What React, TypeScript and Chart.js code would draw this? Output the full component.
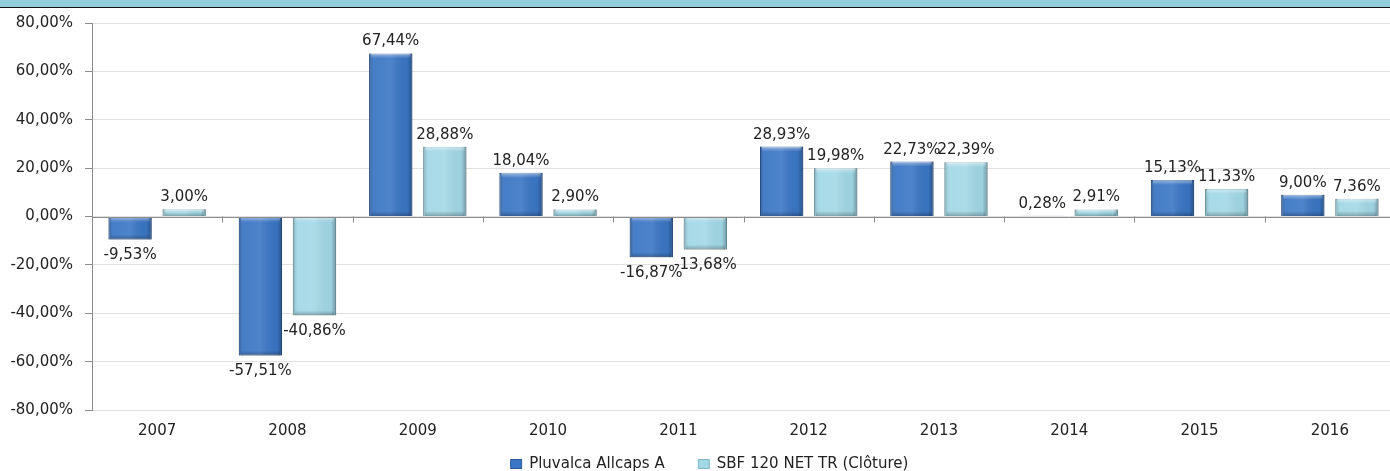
import React, { useEffect, useRef } from "react";
import { Chart, registerables } from "chart.js";

Chart.register(...registerables);

const years = ["2007", "2008", "2009", "2010", "2011", "2012", "2013", "2014", "2015", "2016"];
const pluvalca = [-9.53, -57.51, 67.44, 18.04, -16.87, 28.93, 22.73, 0.28, 15.13, 9.0];
const sbf = [3.0, -40.86, 28.88, 2.9, -13.68, 19.98, 22.39, 2.91, 11.33, 7.36];
const seriesNames = ["Pluvalca Allcaps A", "SBF 120 NET TR (Clôture)"];

const FONT = "'DejaVu Sans', Verdana, sans-serif";
const LEGEND_PAD = 5;
const LEGEND_FONT = 15;
const CHART_BOTTOM = 410;

const fmt = (v: number) => v.toFixed(2).replace(".", ",") + "%";

const bevelPlugin = {
  id: "bevel",
  afterDatasetsDraw(chart: any) {
    const ctx = chart.ctx;
    chart.data.datasets.forEach((_ds: any, di: number) => {
      const meta = chart.getDatasetMeta(di);
      meta.data.forEach((el: any) => {
        const { x, y, base, width } = el.getProps(["x", "y", "base", "width"], true);
        const left = x - width / 2;
        const right = x + width / 2;
        const top = Math.min(y, base);
        const bottom = Math.max(y, base);
        const h = bottom - top;
        if (h < 1) return;
        ctx.save();
        const g = ctx.createLinearGradient(left, 0, right, 0);
        g.addColorStop(0, "rgba(0,0,0,0.24)");
        g.addColorStop(0.12, "rgba(255,255,255,0.06)");
        g.addColorStop(0.5, "rgba(255,255,255,0.10)");
        g.addColorStop(0.88, "rgba(0,0,0,0.03)");
        g.addColorStop(1, "rgba(0,0,0,0.30)");
        ctx.fillStyle = g;
        ctx.fillRect(left, top, width, h);
        const bh = Math.min(5, h / 2);
        const vg = ctx.createLinearGradient(0, top, 0, top + bh);
        vg.addColorStop(0, "rgba(255,255,255,0.45)");
        vg.addColorStop(1, "rgba(255,255,255,0)");
        ctx.fillStyle = vg;
        ctx.fillRect(left + 2, top, width - 4, bh);
        const sg = ctx.createLinearGradient(0, bottom - bh, 0, bottom);
        sg.addColorStop(0, "rgba(0,0,0,0)");
        sg.addColorStop(1, "rgba(0,0,0,0.25)");
        ctx.fillStyle = sg;
        ctx.fillRect(left + 2, bottom - bh, width - 4, bh);
        ctx.restore();
      });
    });
  },
};

const labelPlugin = {
  id: "valueLabels",
  afterDatasetsDraw(chart: any) {
    const ctx = chart.ctx;
    ctx.save();
    ctx.font = `15px ${FONT}`;
    ctx.fillStyle = "#222";
    ctx.textAlign = "center";
    chart.data.datasets.forEach((ds: any, di: number) => {
      const meta = chart.getDatasetMeta(di);
      meta.data.forEach((el: any, i: number) => {
        const v = ds.data[i];
        const { x, y } = el.getProps(["x", "y"], true);
        if (v >= 0) {
          ctx.textBaseline = "alphabetic";
          ctx.fillText(fmt(v), x, y - 8);
        } else {
          ctx.textBaseline = "top";
          ctx.fillText(fmt(v), x, y + 8);
        }
      });
    });
    ctx.restore();
  },
};

const zeroAxisPlugin = {
  id: "zeroAxis",
  afterDatasetsDraw(chart: any) {
    const ctx = chart.ctx;
    const xs = chart.scales.x;
    const ys = chart.scales.y;
    const y0 = ys.getPixelForValue(0);
    ctx.save();
    ctx.strokeStyle = "#8c8c8c";
    ctx.lineWidth = 1;
    ctx.beginPath();
    ctx.moveTo(chart.chartArea.left, Math.round(y0) + 0.5);
    ctx.lineTo(chart.chartArea.right, Math.round(y0) + 0.5);
    const n = xs.ticks.length;
    const step = n > 1 ? xs.getPixelForValue(1) - xs.getPixelForValue(0) : 0;
    for (let i = 0; i < n; i++) {
      const px = Math.round(xs.getPixelForValue(i) + step / 2) + 0.5;
      ctx.moveTo(px, y0);
      ctx.lineTo(px, y0 + 6);
    }
    ctx.stroke();
    ctx.restore();
  },
};

const legendShiftPlugin = {
  id: "legendShift",
  afterLayout(chart: any) {
    const xs = chart.scales.x;
    if (xs) {
      xs.bottom = 452;
      xs.height = xs.bottom - xs.top;
    }
    const lg = chart.legend;
    if (!lg) return;
    const h = lg.height;
    const top = 464 - LEGEND_PAD - LEGEND_FONT / 2;
    lg.top = top;
    lg.bottom = top + h;
    lg.left += 12;
    lg.right += 12;
    if (lg.adjustHitBoxes) lg.adjustHitBoxes();
  },
};

export default function App() {
  const ref = useRef<HTMLCanvasElement>(null);
  useEffect(() => {
    document.body.style.margin = "0";
    const chart = new Chart(ref.current as HTMLCanvasElement, {
      type: "bar",
      data: {
        labels: years,
        datasets: [
          {
            label: seriesNames[0],
            data: pluvalca,
            backgroundColor: "#3a76c4",
            borderColor: "#2a5a9c",
            borderWidth: 1,
            categoryPercentage: 0.83,
            barPercentage: 0.8,
          },
          {
            label: seriesNames[1],
            data: sbf,
            backgroundColor: "#a2d8e6",
            borderColor: "#7fb3c2",
            borderWidth: 1,
            categoryPercentage: 0.83,
            barPercentage: 0.8,
          },
        ],
      },
      options: {
        animation: false,
        responsive: false,
        layout: { padding: { top: 23, right: 5, left: 0, bottom: 0 } },
        plugins: {
          tooltip: { enabled: false },
          legend: {
            position: "bottom",
            labels: {
              font: { family: FONT, size: LEGEND_FONT },
              color: "#222",
              boxWidth: 11,
              boxHeight: 9,
              padding: LEGEND_PAD,
              generateLabels: (chart: any) => {
                const items = Chart.defaults.plugins.legend.labels.generateLabels(chart);
                return items.map((it: any, i: number) =>
                  i < items.length - 1 ? { ...it, text: it.text + "      " } : it
                );
              },
            },
          },
        },
        scales: {
          x: {
            grid: { display: false },
            border: { display: false },
            ticks: { font: { family: FONT, size: 15 }, color: "#222", padding: 4 },
            afterFit: (s: any) => {
              const lh = s.chart.legend ? s.chart.legend.height : 0;
              s.height = Math.max(1, 471 - lh - CHART_BOTTOM);
            },
          },
          y: {
            min: -80,
            max: 80,
            ticks: {
              stepSize: 20,
              font: { family: FONT, size: 15 },
              color: "#222",
              padding: 12,
              callback: (v: any) => fmt(Number(v)),
            },
            grid: { color: "#e0e0e0", tickColor: "#8c8c8c", tickLength: 7 },
            border: { color: "#8c8c8c" },
            afterFit: (s: any) => {
              s.width = 92;
            },
          },
        },
      },
      plugins: [bevelPlugin, zeroAxisPlugin, labelPlugin, legendShiftPlugin],
    } as any);
    return () => chart.destroy();
  }, []);
  return (
    <div style={{ position: "fixed", left: 0, top: 0, width: 1390, height: 471, overflow: "hidden", background: "#fff" }}>
      <canvas ref={ref} width={1400} height={471} style={{ position: "absolute", left: 0, top: 0, width: 1400, height: 471 }} />
      <div
        style={{
          position: "absolute",
          left: 0,
          top: 0,
          width: 1390,
          height: 7,
          background: "#92cddc",
          borderBottom: "1px solid #111",
        }}
      />
    </div>
  );
}
